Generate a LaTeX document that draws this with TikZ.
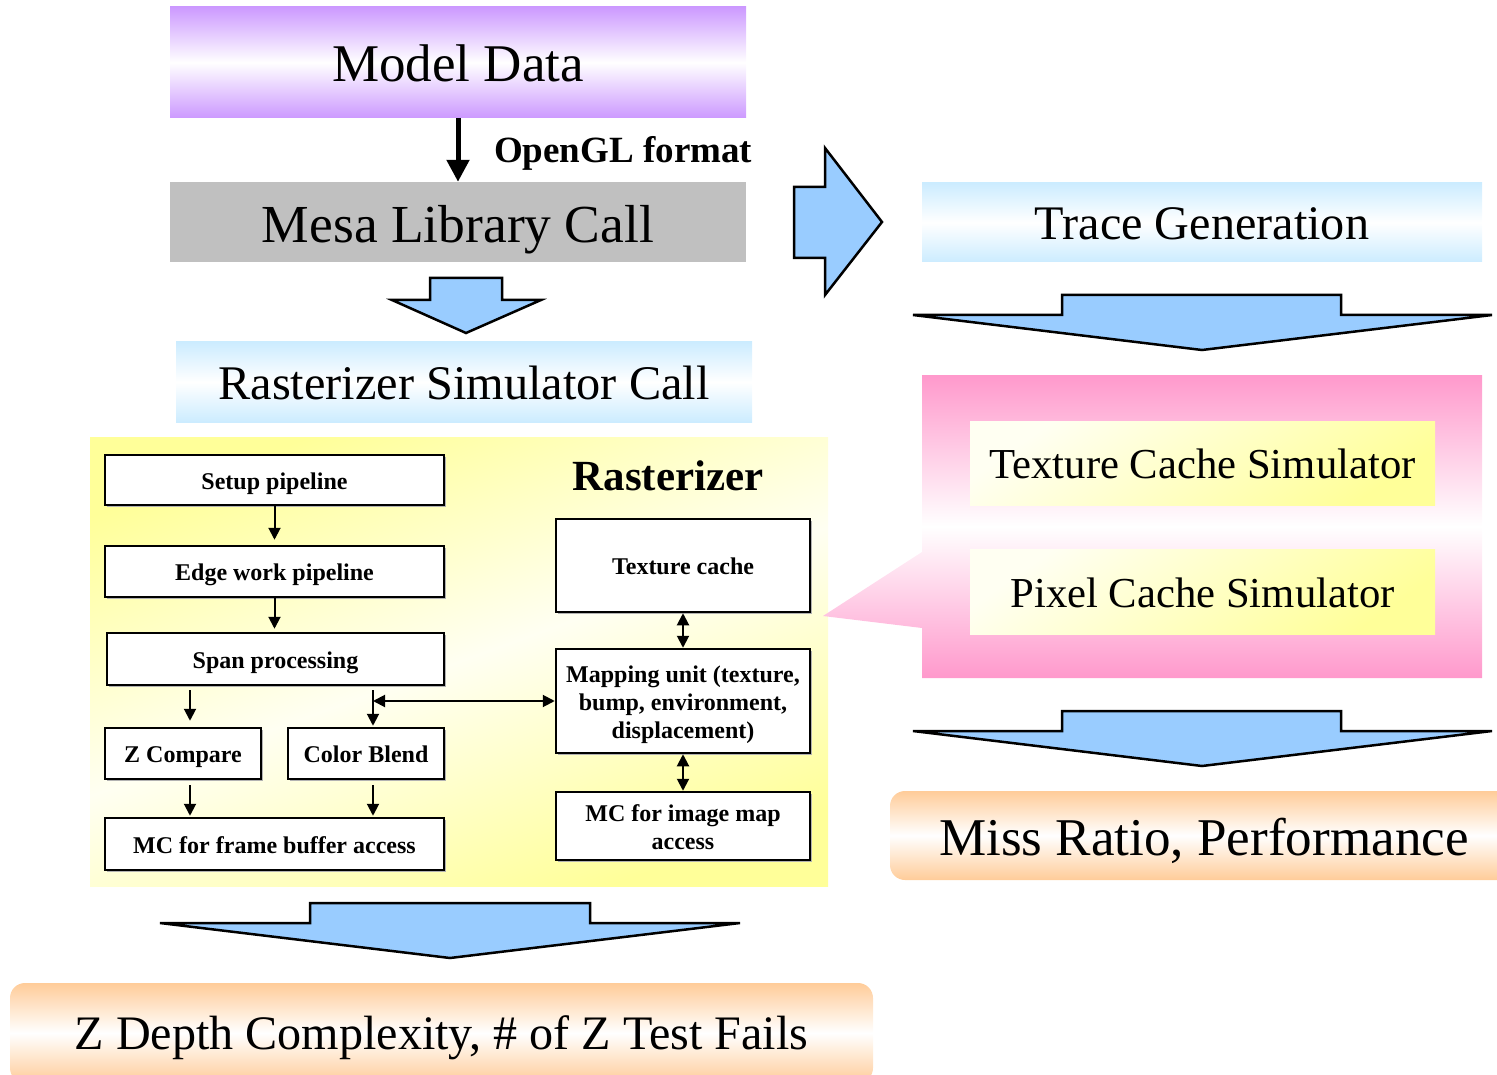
\documentclass[tikz,border=0pt]{standalone}
\usepackage{fontspec}
\setmainfont{Liberation Serif}
\usetikzlibrary{arrows.meta,shadows}

\definecolor{purp}{HTML}{CC99FF}
\definecolor{gry}{HTML}{C0C0C0}
\definecolor{lblue}{HTML}{CCECFF}
\definecolor{ablue}{HTML}{99CCFF}
\definecolor{yel}{HTML}{FFFF99}
\definecolor{paleyel}{HTML}{FFFFF2}
\definecolor{pnk}{HTML}{FF99CC}
\definecolor{orng}{HTML}{FFCC99}

\newcommand\fsz[2]{\fontsize{#1}{#2}\selectfont}

\begin{document}
\begin{tikzpicture}[x=1pt,y=-1pt,
  band/.style={inner sep=0pt, outer sep=0pt, shading=axis,
    top color=#1, bottom color=#1, middle color=white, text depth=0pt},
  simbox/.style={inner sep=0pt, outer sep=0pt, shading=axis,
    top color=paleyel, bottom color=yel, shading angle=35,
    font=\fsz{42.7}{48}, text depth=0pt},
  sbox/.style={draw, line width=2.5pt, fill=white, inner sep=0pt,
    font=\bfseries\fsz{24}{28}, align=center,
    general shadow={fill=black!30, shadow xshift=1.5pt, shadow yshift=-1.5pt}},
  oneline/.style={text height=18.5pt, text depth=0pt},
  barrow/.style={fill=ablue, draw=black, line width=2.5pt},
  conn/.style={line width=2pt, -{Triangle[length=12pt,width=12pt]}},
  biconn/.style={line width=2pt,
    {Triangle[length=12pt,width=12pt]}-{Triangle[length=12pt,width=12pt]}}]

\useasboundingbox (0,0) rectangle (1497,1075);
\clip (0,0) rectangle (1497,1075);

% ---------- left column: front end ----------
\node[band=purp, minimum width=576pt, minimum height=111pt, font=\fsz{53}{60},
  text height=39pt] (model) at (458,62.5) {Model Data};
\node[fill=gry, inner sep=0pt, minimum width=576pt, minimum height=80pt,
  font=\fsz{53.5}{60}, text height=40.4pt, text depth=0pt]
  (mesa) at (458,222) {Mesa Library Call};
\draw[line width=5pt, -{Triangle[length=22pt,width=22pt]}] (model) -- (mesa);
\node[font=\bfseries\fsz{37}{42}, inner sep=0pt, anchor=base west]
  (fmt) at (494,163) {OpenGL format};

% block arrow: Mesa -> rasterizer simulator
\draw[barrow] (430,278) -- (502,278) -- (502,300) -- (541,300) -- (466,333)
  -- (392,300) -- (430,300) -- cycle;

\node[band=lblue, minimum width=576pt, minimum height=80pt, font=\fsz{48.3}{54},
  text height=35pt] (rsc) at (464,382) {Rasterizer Simulator Call};

% ---------- rasterizer block ----------
\node[inner sep=0pt, outer sep=0pt, shading=axis, top color=yel,
  bottom color=yel, middle color=paleyel, shading angle=20,
  minimum width=738pt, minimum height=449pt] (rastarea) at (459,661.5) {};
\node[font=\bfseries\fsz{43}{48}, inner sep=0pt, text height=28.5pt, text depth=0pt]
  (rtitle) at (668,476) {Rasterizer};

\node[sbox, oneline, minimum width=339pt, minimum height=50pt] (setup) at (274.5,480) {Setup pipeline};
\node[sbox, oneline, minimum width=339pt, minimum height=51pt] (edge) at (274.5,571.5) {Edge work pipeline};
\node[sbox, oneline, minimum width=337pt, minimum height=52pt] (span) at (275.5,659) {Span processing};
\node[sbox, oneline, minimum width=156pt, minimum height=51pt] (zcmp) at (183,753.5) {Z Compare};
\node[sbox, oneline, minimum width=156pt, minimum height=51pt] (cblend) at (366,753.5) {Color Blend};
\node[sbox, oneline, minimum width=339pt, minimum height=52pt] (mcfb) at (274.5,844) {MC for frame buffer access};
\node[sbox, oneline, minimum width=254pt, minimum height=93pt] (texc) at (683,565.5) {Texture cache};
\node[sbox, minimum width=254pt, minimum height=104pt] (mapu) at (683,701)
  {\rule{0pt}{25pt}Mapping unit (texture,\\bump, environment,\\displacement)};
\node[sbox, minimum width=254pt, minimum height=68pt] (mcim) at (683,826)
  {\rule{0pt}{20pt}MC for image map\\access};

\coordinate (colA) at (190,700);
\coordinate (colB) at (373,700);

\draw[conn, shorten >=5pt] (setup) -- (edge);
\draw[conn, shorten >=3pt] (edge.south) -- (edge.south |- span.north);
\draw[conn, shorten <=4pt, shorten >=6pt] (span.south -| colA) -- (zcmp.north -| colA);
\draw[conn, shorten <=4pt, shorten >=1pt] (span.south -| colB) -- (cblend.north -| colB);
\draw[biconn] (colB |- mapu.west) -- (mapu.west);
\draw[conn, shorten <=5pt, shorten >=1pt] (zcmp.south -| colA) -- (mcfb.north -| colA);
\draw[conn, shorten <=5pt, shorten >=1pt] (cblend.south -| colB) -- (mcfb.north -| colB);
\draw[biconn] (texc) -- (mapu);
\draw[biconn] (mapu) -- (mcim);

% block arrow: rasterizer block -> Z statistics
\draw[barrow] (310,903) -- (590,903) -- (590,923) -- (740,923) -- (450,958)
  -- (160,923) -- (310,923) -- cycle;

\node[band=orng, rounded corners=15pt, minimum width=863pt, minimum height=100pt,
  font=\fsz{48.1}{54}, text height=32pt]
  (zdep) at (441.5,1033) {Z Depth Complexity, \# of Z Test Fails};

% ---------- right column: trace-driven cache simulation ----------
\draw[barrow] (794,187) -- (825,187) -- (825,148) -- (882,222) -- (825,295)
  -- (825,258) -- (794,258) -- cycle;

\node[band=lblue, minimum width=560pt, minimum height=79pt, font=\fsz{48.2}{54},
  text height=35pt] (trace) at (1202,222.5) {Trace Generation};

\draw[barrow] (1062,295) -- (1341,295) -- (1341,315) -- (1492,315) -- (1202,350)
  -- (913,315) -- (1062,315) -- cycle;

% cache simulator panel with its callout towards the rasterizer
\path[shading=axis, top color=pnk, bottom color=pnk, middle color=white]
  (922,375) -- (1482,375) -- (1482,678) -- (922,678) -- (922,628)
  -- (823,616) -- (922,552) -- cycle;

\node[simbox, minimum width=465pt, minimum height=84pt, text height=30pt]
  (tcs) at (1202.5,463) {Texture Cache Simulator};
\node[simbox, minimum width=465pt, minimum height=85pt, text height=31.3pt]
  (pcs) at (1202.5,591.5) {Pixel Cache Simulator};

\draw[barrow] (1062,711) -- (1341,711) -- (1341,731) -- (1492,731) -- (1202,766)
  -- (913,731) -- (1062,731) -- cycle;

\node[band=orng, rounded corners=15pt, minimum width=628pt, minimum height=89pt,
  font=\fsz{53.1}{60}, text height=40.2pt]
  (miss) at (1204,835.5) {Miss Ratio, Performance};

\end{tikzpicture}
\end{document}
